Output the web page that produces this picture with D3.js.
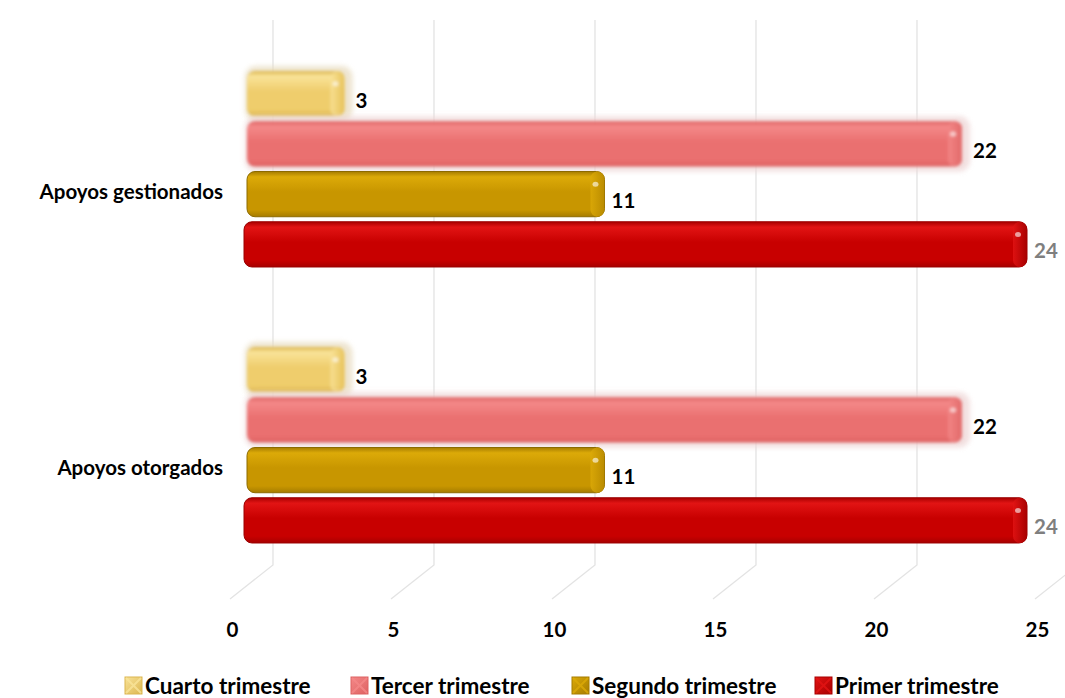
<!DOCTYPE html>
<html><head><meta charset="utf-8">
<script src="https://cdn.jsdelivr.net/npm/d3@7"></script>
<style>
body{margin:0;background:#fff;}
svg{display:block;}
text{font-family:Lato,"Open Sans",sans-serif;font-weight:bold;}
</style></head>
<body>
<svg id="c" width="1065" height="698"></svg>
<script>
const categories = ["Apoyos gestionados", "Apoyos otorgados"];
const seriesNames = ["Cuarto trimestre", "Tercer trimestre", "Segundo trimestre", "Primer trimestre"];
const cuarto = [3, 3];
const tercer = [22, 22];
const segundo = [11, 11];
const primer = [24, 24];
const tickValues = [0, 5, 10, 15, 20, 25];

const seriesValues = [cuarto, tercer, segundo, primer];
const styles = [
  {top:"#f9e398", mid:"#efcd6c", bot:"#dcb650", cap:"#e6c055", halo:"#e8dcc0", label:"#000", blur:true, stroke:"none"},
  {top:"#f48888", mid:"#ea7070", bot:"#de6262", cap:"#e06868", halo:"#eed6d6", label:"#000", blur:true, stroke:"none"},
  {top:"#dcaa08", mid:"#c89600", bot:"#a67c00", cap:"#b88a00", halo:null, label:"#000", blur:false, stroke:"#8c6a00"},
  {top:"#e21414", mid:"#c80000", bot:"#a80000", cap:"#a30000", halo:null, label:"#7f7f7f", blur:false, stroke:"#9a0000"}
];
const FS = 20.5;
const LFS = 22.5;

const svg = d3.select("#c");
const defs = svg.append("defs");
defs.append("filter").attr("id","blur").append("feGaussianBlur").attr("stdDeviation",1.6);
defs.append("filter").attr("id","blur2").append("feGaussianBlur").attr("stdDeviation",2.5);
styles.forEach((s,i)=>{
  const g = defs.append("linearGradient").attr("id","g"+i).attr("x1",0).attr("x2",0).attr("y1",0).attr("y2",1);
  g.append("stop").attr("offset","0%").attr("stop-color",s.bot);
  g.append("stop").attr("offset","12%").attr("stop-color",s.top);
  g.append("stop").attr("offset","45%").attr("stop-color",s.mid);
  g.append("stop").attr("offset","85%").attr("stop-color",s.mid);
  g.append("stop").attr("offset","100%").attr("stop-color",s.bot);
  const c = defs.append("linearGradient").attr("id","cap"+i).attr("x1",0).attr("x2",1).attr("y1",0).attr("y2",0);
  c.append("stop").attr("offset","0%").attr("stop-color",s.top).attr("stop-opacity",0.9);
  c.append("stop").attr("offset","100%").attr("stop-color",s.cap);
  const m = defs.append("linearGradient").attr("id","m"+i).attr("x1",0).attr("x2",1).attr("y1",0).attr("y2",1);
  m.append("stop").attr("offset","0%").attr("stop-color",s.top);
  m.append("stop").attr("offset","100%").attr("stop-color",s.bot);
});

// scales
const xBar = d3.scaleLinear().domain([0,25]).range([247, 247+25*32.5]);
const xBack = d3.scaleLinear().domain([0,25]).range([273, 1078]);
const xFront = d3.scaleLinear().domain([0,25]).range([232, 1037]);
const yCat = d3.scaleBand().domain(categories).range([31, 583]).padding(0);
const clusterH = 202;
const ySer = d3.scaleBand().domain(seriesNames).range([0, clusterH]).padding(0.02);

// gridlines (back wall + floor diagonals)
const floorBack = 565, floorFront = 599, gridTop = 20;
const grid = svg.append("g");
tickValues.forEach(t=>{
  const xb = xBack(t), xf = xFront(t) - 2;
  grid.append("path")
    .attr("d", `M${xb},${gridTop}V${floorBack}L${xf},${floorFront}`)
    .attr("fill","none").attr("stroke","#e3e3e3").attr("stroke-width",1.3);
});

// axis labels (front)
const axis = d3.axisBottom(xFront).tickValues(tickValues).tickSize(0).tickPadding(0);
const ax = svg.append("g").attr("transform","translate(0,637)").call(axis);
ax.select(".domain").remove();
ax.selectAll("text").attr("font-size",FS).attr("fill","#000").attr("font-family","Lato,sans-serif").attr("font-weight","bold").attr("dy","0");

// category labels
svg.append("g").selectAll("text").data(categories).join("text")
  .attr("x",223).attr("y",d=>yCat(d)+yCat.bandwidth()/2+30)
  .attr("text-anchor","end").attr("font-size",FS).attr("fill","#000").text(d=>d);

// bars
categories.forEach((cat,ci)=>{
  const cy = yCat(cat) + yCat.bandwidth()/2 - clusterH/2;
  seriesNames.forEach((sn,si)=>{
    const v = seriesValues[si][ci];
    const s = styles[si];
    const y = cy + ySer(sn), h = ySer.bandwidth();
    const x0 = xBar(0) - (si===3?3:0), x1 = xBar(v);
    const g = svg.append("g");
    if (s.halo){
      g.append("rect").attr("x",x0-2).attr("y",y-3).attr("width",x1-x0+10).attr("height",h+6)
        .attr("rx",11).attr("fill",s.halo).attr("opacity",0.75).attr("filter","url(#blur2)");
    }
    const body = g.append("g");
    if (s.blur) body.attr("filter","url(#blur)");
    body.append("rect").attr("x",x0).attr("y",y+2).attr("width",x1-x0).attr("height",h-4)
      .attr("rx",8).attr("fill","url(#g"+si+")").attr("stroke",s.stroke).attr("stroke-width",s.stroke==="none"?0:1);
    body.append("rect").attr("x",x1-14).attr("y",y+2).attr("width",14).attr("height",h-4)
      .attr("rx",7).attr("fill","url(#cap"+si+")").attr("opacity",0.9);
    body.append("ellipse").attr("cx",x1-9).attr("cy",y+h*0.3).attr("rx",3).attr("ry",2.5)
      .attr("fill","#fff").attr("opacity",0.6);
    svg.append("text").attr("x",x1+(s.halo?11:7)).attr("y",y+h/2+14)
      .attr("font-size",FS).attr("fill",s.label).text(v);
  });
});

// legend
const legX = [125, 351, 572, 815];
const leg = svg.append("g").attr("transform","translate(0,694)");
seriesNames.forEach((sn,i)=>{
  const s = styles[i];
  const g = leg.append("g").attr("transform",`translate(${legX[i]},0)`);
  g.append("rect").attr("x",0).attr("y",-17).attr("width",17).attr("height",17).attr("fill","url(#m"+i+")").attr("stroke",s.bot).attr("stroke-width",1);
  g.append("path").attr("d","M1,-16L8.5,-8.5L16,-16M1,-1L8.5,-8.5L16,-1").attr("fill","none").attr("stroke",s.top).attr("stroke-width",2).attr("opacity",0.8);
  g.append("text").attr("x",20).attr("y",0).attr("font-size",LFS).attr("fill","#000").text(sn);
});
</script>
</body></html>
